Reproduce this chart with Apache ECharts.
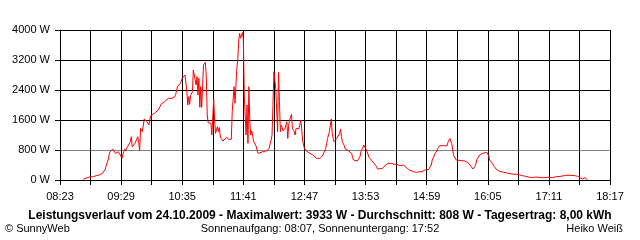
<!DOCTYPE html>
<html><head><meta charset="utf-8">
<script src="https://cdn.jsdelivr.net/npm/echarts@6/dist/echarts.min.js"></script>
<style>html,body{margin:0;padding:0;background:#fff}#c{width:640px;height:240px}</style>
</head><body><div id="c"></div>
<script>
// Time of each reading (HH:MM) and power in watts
const times = ["08:48","08:50","08:54","08:59","09:02","09:05","09:07","09:09","09:10","09:12","09:13","09:15","09:16","09:17","09:18","09:20","09:22","09:23","09:25","09:26","09:27","09:28","09:30","09:31","09:32","09:33","09:34","09:35","09:36","09:37","09:39","09:40","09:41","09:42","09:44","09:45","09:46","09:47","09:48","09:49","09:50","09:52","09:53","09:54","09:55","09:57","09:58","09:59","10:00","10:01","10:02","10:05","10:07","10:09","10:11","10:12","10:14","10:16","10:17","10:20","10:22","10:24","10:27","10:28","10:29","10:30","10:33","10:34","10:35","10:37","10:38","10:39","10:40","10:41","10:42","10:43","10:44","10:46","10:47","10:48","10:49","10:50","10:51","10:52","10:53","10:54","10:55","10:56","10:57","10:58","11:00","11:01","11:02","11:03","11:05","11:06","11:07","11:08","11:09","11:10","11:11","11:13","11:14","11:15","11:16","11:17","11:19","11:21","11:23","11:25","11:28","11:29","11:30","11:31","11:32","11:33","11:34","11:35","11:36","11:37","11:38","11:40","11:41","11:42","11:43","11:44","11:45","11:46","11:47","11:48","11:49","11:50","11:51","11:52","11:55","11:56","11:57","11:59","12:02","12:05","12:07","12:09","12:10","12:11","12:12","12:13","12:14","12:15","12:16","12:17","12:18","12:19","12:20","12:21","12:22","12:23","12:24","12:25","12:26","12:27","12:28","12:29","12:30","12:31","12:32","12:33","12:34","12:35","12:36","12:37","12:38","12:39","12:40","12:41","12:42","12:43","12:44","12:45","12:46","12:47","12:49","12:50","12:51","12:53","12:55","12:56","12:58","13:00","13:01","13:04","13:06","13:07","13:09","13:10","13:11","13:12","13:13","13:14","13:16","13:17","13:18","13:19","13:20","13:22","13:24","13:25","13:26","13:27","13:28","13:30","13:31","13:33","13:34","13:36","13:38","13:39","13:40","13:41","13:44","13:46","13:47","13:48","13:50","13:51","13:52","13:54","13:55","13:57","13:59","14:00","14:01","14:03","14:05","14:06","14:08","14:11","14:12","14:14","14:16","14:17","14:21","14:24","14:27","14:29","14:30","14:32","14:34","14:35","14:38","14:39","14:41","14:43","14:45","14:46","14:48","14:51","14:54","14:55","14:57","14:59","15:01","15:02","15:04","15:05","15:07","15:08","15:10","15:11","15:13","15:15","15:18","15:21","15:22","15:23","15:24","15:25","15:26","15:27","15:28","15:31","15:32","15:40","15:42","15:44","15:45","15:47","15:49","15:51","15:52","15:53","15:55","15:56","15:59","16:00","16:04","16:05","16:06","16:07","16:08","16:10","16:12","16:14","16:15","16:17","16:19","16:22","16:26","16:28","16:31","16:33","16:36","16:39","16:40","16:42","16:44","16:45","16:47","16:49","16:53","16:54","16:55","16:57","16:59","17:03","17:07","17:08","17:10","17:12","17:15","17:19","17:21","17:24","17:26","17:29","17:31","17:34","17:36","17:39","17:40","17:42","17:44","17:47","17:48","17:50","17:51","17:52","17:53"];
const watts = [20,62,75,89,115,130,151,180,222,293,400,533,667,755,800,827,800,710,667,755,710,760,578,690,760,827,773,845,880,880,1022,1155,880,920,978,930,930,1155,1000,773,1378,1290,1467,1627,1600,1555,1555,1467,1600,1715,1720,1778,1790,1867,1955,2018,2071,2090,2107,2178,2180,2180,2222,2285,2400,2490,2578,2640,2712,2756,2800,2800,2355,2000,2222,2018,2250,2355,2933,2900,2960,2533,2756,2267,2712,1940,2490,1940,2500,3067,3138,2756,1733,1530,1530,1510,1200,1200,2160,1600,1245,1420,1290,1400,1200,1110,1040,1065,1140,1085,1085,1820,1780,2490,2045,2090,2980,3200,3707,3910,3780,3933,3780,2267,2267,1200,2000,978,2490,1555,1200,1307,1200,1040,890,773,710,755,755,755,800,845,978,1065,1200,2018,2890,2890,2445,1867,1290,2870,2090,1290,1467,1400,1307,1290,1378,1467,1555,1110,1467,1600,1555,1750,1378,1420,1290,1200,1378,1330,1420,1370,1467,1600,1378,1067,933,845,773,737,755,710,710,667,622,578,533,578,622,667,710,845,978,1110,1200,1290,1627,1245,1110,1022,1065,1110,1155,1245,1360,1155,1022,915,827,800,790,773,710,595,533,507,507,533,622,755,862,933,915,800,755,595,551,507,471,418,355,293,293,310,355,380,418,444,444,418,418,391,380,355,400,355,310,285,258,222,222,204,204,222,222,240,267,267,280,310,400,533,640,710,773,845,915,933,915,910,1004,1040,1110,1067,980,827,667,533,507,507,488,460,418,360,293,355,418,533,613,667,710,737,737,710,640,533,507,444,355,293,267,240,222,204,187,168,160,152,152,145,133,115,110,105,89,80,62,89,62,80,80,62,62,89,75,62,62,89,89,98,116,125,151,125,116,116,110,98,62,27,27,62,62,45,0];
const yTicks = [0,800,1600,2400,3200,4000];
const startTime = "08:23";
const endTime = "18:17";
const titleText = "Leistungsverlauf vom 24.10.2009 - Maximalwert: 3933 W - Durchschnitt: 808 W - Tagesertrag: 8,00 kWh";
const footLeft = "© SunnyWeb";
const footCenter = "Sonnenaufgang: 08:07, Sonnenuntergang: 17:52";
const footRight = "Heiko Weiß";

const toMin = s => { const p = s.split(":"); return (+p[0])*60 + (+p[1]); };
const t0 = toMin(startTime), t1 = toMin(endTime);
const fmt = m => { const a = t0 + m; const h = Math.floor(a/60), mm = a%60; return String(h).padStart(2,'0')+":"+String(mm).padStart(2,'0'); };
const data = times.map((t,i) => [toMin(t)-t0, watts[i]]);
const FONT = "'Liberation Sans', Arial, sans-serif";

const chart = echarts.init(document.getElementById('c'), null, {renderer:'canvas'});
chart.setOption({
  animation:false,
  backgroundColor:'#fff',
  grid:{left:60, right:30, top:30, bottom:60, containLabel:false},
  graphic:[
    {type:'text', left:'center', top:210, style:{text:titleText, font:"bold 12px "+FONT, fill:'#000'}},
    {type:'text', left:5, top:223, style:{text:footLeft, font:"11px "+FONT, fill:'#000'}},
    {type:'text', left:'center', top:223, style:{text:footCenter, font:"11px "+FONT, fill:'#000'}},
    {type:'text', right:17, top:223, style:{text:footRight, font:"11px "+FONT, fill:'#000'}}
  ],
  xAxis:{type:'value', min:0, max:t1-t0, interval:33,
    axisLine:{show:true, lineStyle:{color:'#000', width:1}},
    axisTick:{show:true, length:5, lineStyle:{color:'#000'}},
    axisLabel:{margin:11, fontSize:11, fontFamily:FONT, color:'#000', showMinLabel:true, showMaxLabel:true,
      formatter: v => (Math.round(v) % 66 === 0) ? fmt(Math.round(v)) : ''},
    splitLine:{show:true, lineStyle:{color:'#000', width:1}}
  },
  yAxis:{type:'value', min:yTicks[0], max:yTicks[yTicks.length-1], interval:yTicks[1]-yTicks[0],
    axisLine:{show:true, lineStyle:{color:'#000', width:1}},
    axisTick:{show:true, length:5, lineStyle:{color:'#000'}},
    axisLabel:{margin:10, fontSize:11, fontFamily:FONT, color:'#000', formatter: v => v + ' W'},
    splitLine:{show:true, lineStyle:{color:['#000','#808080','#000','#000','#000','#000'], width:1}}
  },
  series:[{type:'line', data:data, showSymbol:false, symbol:'none',
    lineStyle:{color:'#ff0000', width:1}, itemStyle:{color:'#ff0000'}, z:5}]
});
</script></body></html>
